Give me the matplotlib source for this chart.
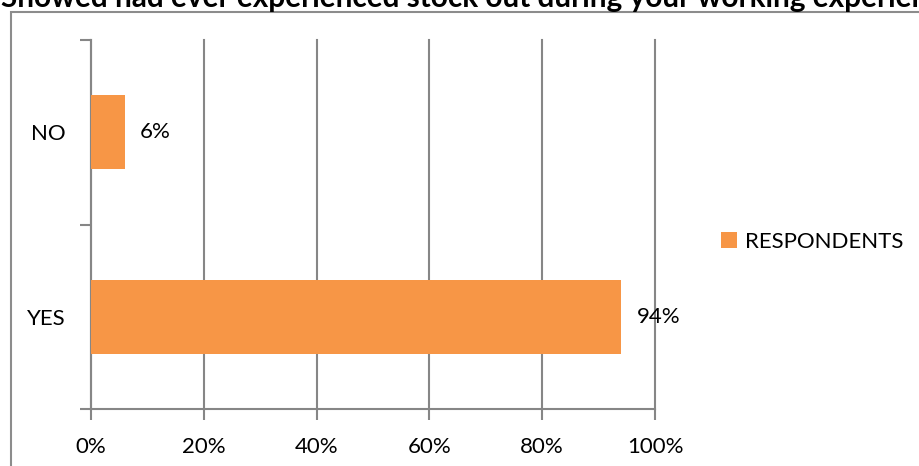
import matplotlib
matplotlib.use("Agg")
import matplotlib.pyplot as plt
from matplotlib.patches import Rectangle

plt.rcParams['font.family'] = ['Lato', 'DejaVu Sans']

categories = ['YES', 'NO']
respondents = [94, 6]
xticks = [0, 20, 40, 60, 80, 100]
title = 'Showed had ever experienced stock out during your working experience'

W, H = 919, 466
fig = plt.figure(figsize=(W / 100, H / 100), dpi=100)

# outer chart border (runs off the right and bottom edges)
fig.patches.append(Rectangle((11 / W, -0.1), 1.2, 1 - 11.5 / H + 0.1,
                             transform=fig.transFigure, fill=False,
                             edgecolor='#8c8c8c', linewidth=1.5))

fig.text(1 / W, 1 - 7 / H, title, fontsize=21.4, fontweight='bold',
         va='baseline', ha='left')

ax = fig.add_axes([91 / W, 1 - 409 / H, (655 - 91) / W, (409 - 40) / H])
bar_color = '#f79646'
ypos = range(len(categories))
ax.barh(ypos, respondents, height=0.4, color=bar_color, label='RESPONDENTS', zorder=3)
for y, v in zip(ypos, respondents):
    ax.text(v + 2.7, y, f'{v}%', va='center', ha='left', fontsize=16)

ax.set_xlim(0, 100)
ax.set_ylim(-0.5, 1.5)
ax.set_xticks(xticks)
ax.set_xticklabels([f'{t}%' for t in xticks], fontsize=16)
ax.set_yticks([-0.5, 0.5, 1.5], minor=False)
ax.set_yticklabels([])
ax.set_yticks(list(ypos), minor=True)
ax.set_yticklabels(categories, minor=True, fontsize=16)
ax.tick_params(axis='y', which='minor', length=0, pad=18)
ax.tick_params(axis='y', which='major', length=8, width=1.5, color='#868686')
ax.tick_params(axis='x', length=8, width=1.5, color='#868686', pad=12)

ax.grid(axis='x', color='#868686', linewidth=1.5, zorder=0)
for line in ax.get_xgridlines():
    line.set_clip_on(False)
for s in ['top', 'right']:
    ax.spines[s].set_visible(False)
for s in ['left', 'bottom']:
    ax.spines[s].set_color('#868686')
    ax.spines[s].set_linewidth(1.5)

fig.legend(loc='center left', bbox_to_anchor=(721 / W, 1 - 242 / H), frameon=False,
           fontsize=16, handlelength=0.7, handleheight=0.7, handletextpad=0.4,
           borderaxespad=0, borderpad=0)

fig.savefig('out.png', dpi=100)
